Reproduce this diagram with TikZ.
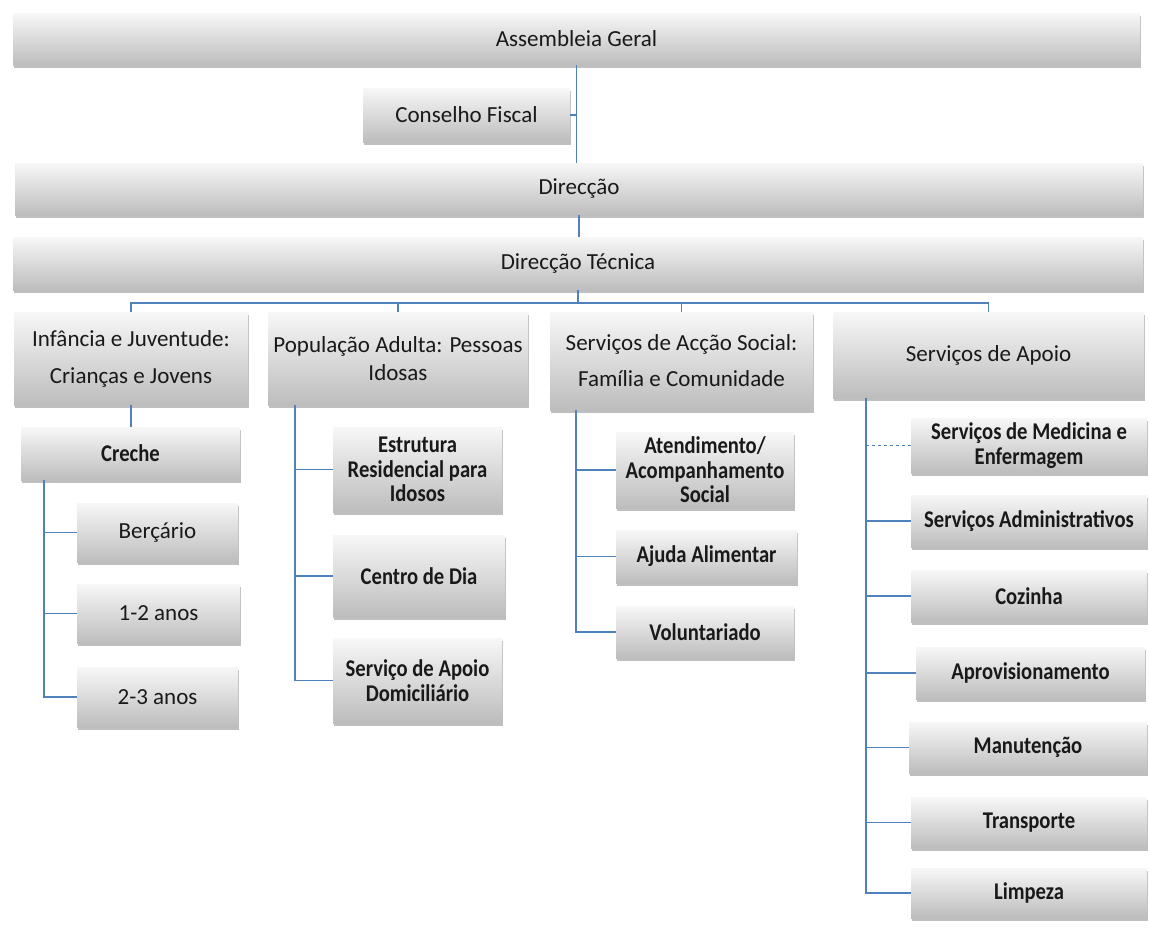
\documentclass[tikz,border=0pt]{standalone}
\usepackage{fontspec}
\setmainfont{Carlito}[BoldFeatures={FakeStretch=0.86}]
\usepackage{tikz}
\usetikzlibrary{calc,shadows}
\definecolor{linkblue}{HTML}{4F81BD}
\tikzset{
  orgbox/.style={rectangle,inner sep=0pt,align=center,text=black!90,
    top color=white!97!black,bottom color=white!74!black,
    drop shadow={shadow xshift=0.6pt,shadow yshift=-3pt,opacity=0.25,fill=black}},
  headtxt/.style={font=\fontsize{23}{28}\selectfont},
  subtxt/.style={font=\bfseries\fontsize{24}{24.5}\selectfont},
  link/.style={draw=linkblue,line width=1.6pt},
}

\begin{document}
\begin{tikzpicture}[x=1pt,y=-1pt]
\useasboundingbox (0,0) rectangle (1149,927);

% top of the chart
\node[orgbox,headtxt,minimum width=1127pt,minimum height=52pt] (ag) at (576.5,39) {Assembleia Geral};
\node[orgbox,headtxt,minimum width=207pt,minimum height=54pt] (cf) at (466.5,115) {Conselho Fiscal};
\node[orgbox,headtxt,minimum width=1128pt,minimum height=52pt] (dir) at (579,189) {Direcção};
\node[orgbox,headtxt,minimum width=1130pt,minimum height=53pt] (dt) at (578,263.5) {Direcção Técnica};

\draw[link] (ag.south) -- (ag.south |- dir.north);
\draw[link] (cf.east) -- (cf.east -| ag.south);
\draw[link] (dir.south) -- (dir.south |- dt.north);

% areas
\node[orgbox,font=\fontsize{23}{37}\selectfont,minimum width=234pt,minimum height=93pt] (inf) at (131,358.5)
     {Infância e Juventude:\\Crianças e Jovens};
\node[orgbox,headtxt,minimum width=260pt,minimum height=93pt] (pop) at (398,358.5)
     {População Adulta: Pessoas\\Idosas};
\node[orgbox,font=\fontsize{23}{36}\selectfont,minimum width=263pt,minimum height=98pt] (acc) at (681.5,361)
     {Serviços de Acção Social:\\Família e Comunidade};
\node[orgbox,headtxt,minimum width=311pt,minimum height=86pt] (apo) at (988.5,355) {Serviços de Apoio};

\coordinate (bus) at ($(dt.south)+(0,13)$);
\draw[link] (dt.south) -- (bus);
\foreach \n in {inf,pop,acc,apo}
  \draw[link] (\n.north) |- (bus);

% infancia
\node[orgbox,subtxt,minimum width=219pt,minimum height=53pt] (cre) at (130.5,453.5) {Creche};
\node[orgbox,headtxt,minimum width=161pt,minimum height=59pt] (ber) at (157.5,532.5) {Berçário};
\node[orgbox,headtxt,minimum width=163pt,minimum height=59pt] (a12) at (158.5,613.5) {1-2 anos};
\node[orgbox,headtxt,minimum width=161pt,minimum height=60pt] (a23) at (157.5,697) {2-3 anos};

\draw[link] (inf.south) -- (inf.south |- cre.north);
\coordinate (creS) at ($(cre.south west)+(23,0)$);
\draw[link] (creS) |- (a23.west);
\foreach \n in {ber,a12}
  \draw[link] (creS |- \n.west) -- (\n.west);

% populacao adulta
\node[orgbox,subtxt,minimum width=169pt,minimum height=85pt] (est) at (417.5,469.5)
     {Estrutura\\Residencial para\\Idosos};
\node[orgbox,subtxt,minimum width=172pt,minimum height=82pt] (cdd) at (419,576) {Centro de Dia};
\node[orgbox,subtxt,minimum width=169pt,minimum height=85pt] (sad) at (417.5,680.5)
     {Serviço de Apoio\\Domiciliário};

\coordinate (popS) at ($(pop.south west)+(27,0)$);
\draw[link] (popS) |- (sad.west);
\foreach \n in {est,cdd}
  \draw[link] (popS |- \n.west) -- (\n.west);

% accao social
\node[orgbox,subtxt,minimum width=178pt,minimum height=76pt] (ate) at (705,470)
     {Atendimento/\\Acompanhamento\\Social};
\node[orgbox,subtxt,minimum width=181pt,minimum height=53pt] (aju) at (706.5,556.5) {Ajuda Alimentar};
\node[orgbox,subtxt,minimum width=178pt,minimum height=52pt] (vol) at (705,632) {Voluntariado};

\coordinate (accS) at ($(acc.south west)+(26,0)$);
\draw[link] (accS) |- (vol.west);
\foreach \n in {ate,aju}
  \draw[link] (accS |- \n.west) -- (\n.west);

% servicos de apoio
\node[orgbox,subtxt,minimum width=236pt,minimum height=55pt] (med) at (1029,445.5)
     {Serviços de Medicina e\\Enfermagem};
\node[orgbox,subtxt,minimum width=236pt,minimum height=52pt] (adm) at (1029,521) {Serviços Administrativos};
\node[orgbox,subtxt,minimum width=236pt,minimum height=52pt] (coz) at (1029,596) {Cozinha};
\node[orgbox,subtxt,minimum width=229pt,minimum height=52pt] (apr) at (1030.5,673) {Aprovisionamento};
\node[orgbox,subtxt,minimum width=238pt,minimum height=51pt] (man) at (1028,747.5) {Manutenção};
\node[orgbox,subtxt,minimum width=236pt,minimum height=51pt] (tra) at (1029,822.5) {Transporte};
\node[orgbox,subtxt,minimum width=236pt,minimum height=50pt] (lim) at (1029,893) {Limpeza};

\coordinate (apoS) at ($(apo.south west)+(33,0)$);
\draw[link] (apoS) |- (lim.west);
\draw[link,line width=0.9pt,dashed] (apoS |- med.west) -- (med.west);
\foreach \n in {adm,coz,apr,man,tra}
  \draw[link] (apoS |- \n.west) -- (\n.west);
\end{tikzpicture}
\end{document}
